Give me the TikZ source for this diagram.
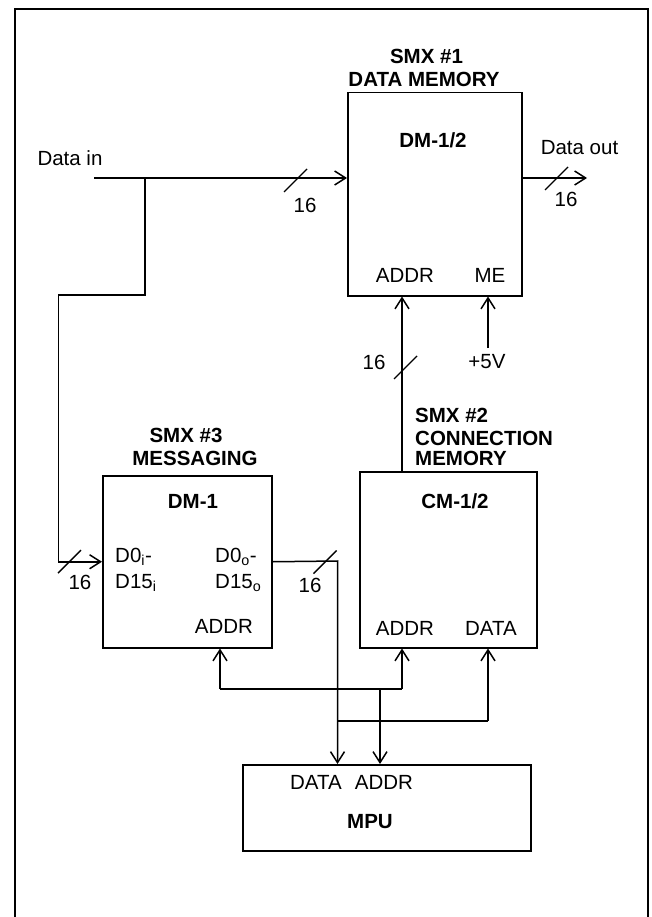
\documentclass[tikz,border=0pt]{standalone}
\usepackage{fontspec}
\setmainfont{Liberation Sans}
\usetikzlibrary{arrows.meta,calc}
\begin{document}
\begin{tikzpicture}[x=1pt,y=-1pt,
  every node/.style={font=\fontsize{20.5}{24}\selectfont, inner sep=0pt},
  lbl/.style={font=\fontsize{20.5}{24}\selectfont\bfseries},
  box/.style={draw, line width=1.5pt, anchor=north west, inner sep=0pt},
  wire/.style={line width=1.5pt},
  arr/.style={wire, -{Straight Barb[length=11pt,width=14pt,line width=1.5pt]}},
  slashmark/.style={line width=1.4pt},
]
\useasboundingbox (0,0) rectangle (652,917);
% frame
\draw[line width=2.8pt] (15,917) -- (15,9) -- (648,9) -- (648,917);

% boxes
\node[box, minimum width=174pt, minimum height=203pt] (dm12) at (347,92) {};
\node[box, minimum width=169pt, minimum height=172pt] (dm1) at (102,475) {};
\node[box, minimum width=177pt, minimum height=176pt] (cm) at (359,471) {};
\node[box, minimum width=288pt, minimum height=86pt] (mpu) at (242,764) {};

% labels
\node[lbl] (smx1a) at (426.5,56) {SMX \#1};
\node[lbl] (smx1b) at (424,79) {DATA MEMORY};
\node[lbl] (dm12t) at (433,140) {DM-1/2};
\node (dinl) at (70,158) {Data in};
\node (doutl) at (579.5,148) {Data out};
\node (addr1) at (405,275) {ADDR};
\node (me1) at (490,275) {ME};
\node (v5) at (487,362) {+5V};
\node[lbl, anchor=west] (smx2a) at (415,415.5) {SMX \#2};
\node[lbl, anchor=west] (smx2b) at (415,438) {CONNECTION};
\node[lbl, anchor=west] (smx2c) at (415,458.5) {MEMORY};
\node[lbl] (smx3a) at (186,435.5) {SMX \#3};
\node[lbl] (smx3b) at (195,458) {MESSAGING};
\node[lbl] (dm1t) at (193,501) {DM-1};
\node[lbl] (cmt) at (455,501) {CM-1/2};
\node[anchor=west] (d0i) at (115,557) {D0\textsubscript{i}-};
\node[anchor=west] (d15i) at (115,583) {D15\textsubscript{i}};
\node[anchor=west] (d0o) at (215,557) {D0\textsubscript{o}-};
\node[anchor=west] (d15o) at (215,583) {D15\textsubscript{o}};
\node (addr3) at (224,626) {ADDR};
\node (addr2) at (405,628) {ADDR};
\node (data2) at (491,628) {DATA};
\node (mpudata) at (316,782) {DATA};
\node (mpuaddr) at (384,782) {ADDR};
\node[lbl] (mput) at (370,822) {MPU};

% bus width labels
\node (n1) at (305,205) {16};
\node (n2) at (566,199) {16};
\node (n3) at (80,582) {16};
\node (n4) at (310,585) {16};
\node (n5) at (374,362) {16};

% connection points
\coordinate (din) at (94,178);
\coordinate (br) at (145,178);
\coordinate (c1) at (58.5,295);
\coordinate (dataout) at (587,178);
\coordinate (dout) at (337.5,561);
\coordinate (ax) at (402,0);
\coordinate (me) at (488,348);
\coordinate (j1) at (220,689);
\coordinate (j2) at (402,689);
\coordinate (j3) at (380,689);
\coordinate (j4) at (337.5,721);
\coordinate (j5) at (488,721);

% wires
\draw[arr] (din) -- (din -| dm12.west);
\draw[arr] (br) |- (c1) |- (dm1.west);
\draw[arr] (din -| dm12.east) -- (dataout);
\draw[arr] (dm1.east) -- (dout) -- (dout |- mpu.north);
\draw[arr] (cm.north -| ax) -- (dm12.south -| ax);
\draw[arr] (me) -- (me |- dm12.south);
\draw[arr] (j1) -- (j1 |- dm1.south);
\draw[wire] (j1) -- (j2);
\draw[arr] (j2) -- (j2 |- cm.south);
\draw[arr] (j3) -- (j3 |- mpu.north);
\draw[wire] (j4) -- (j5);
\draw[arr] (j5) -- (j5 |- cm.south);

% slash marks
\foreach \sx/\sy in {295.5/180.5, 556.5/178.5, 69.5/561.7, 325/562, 405.5/367.5}{
  \draw[slashmark] (\sx-11.5,\sy+11.5) -- (\sx+11.5,\sy-11.5);
}
\end{tikzpicture}
\end{document}
